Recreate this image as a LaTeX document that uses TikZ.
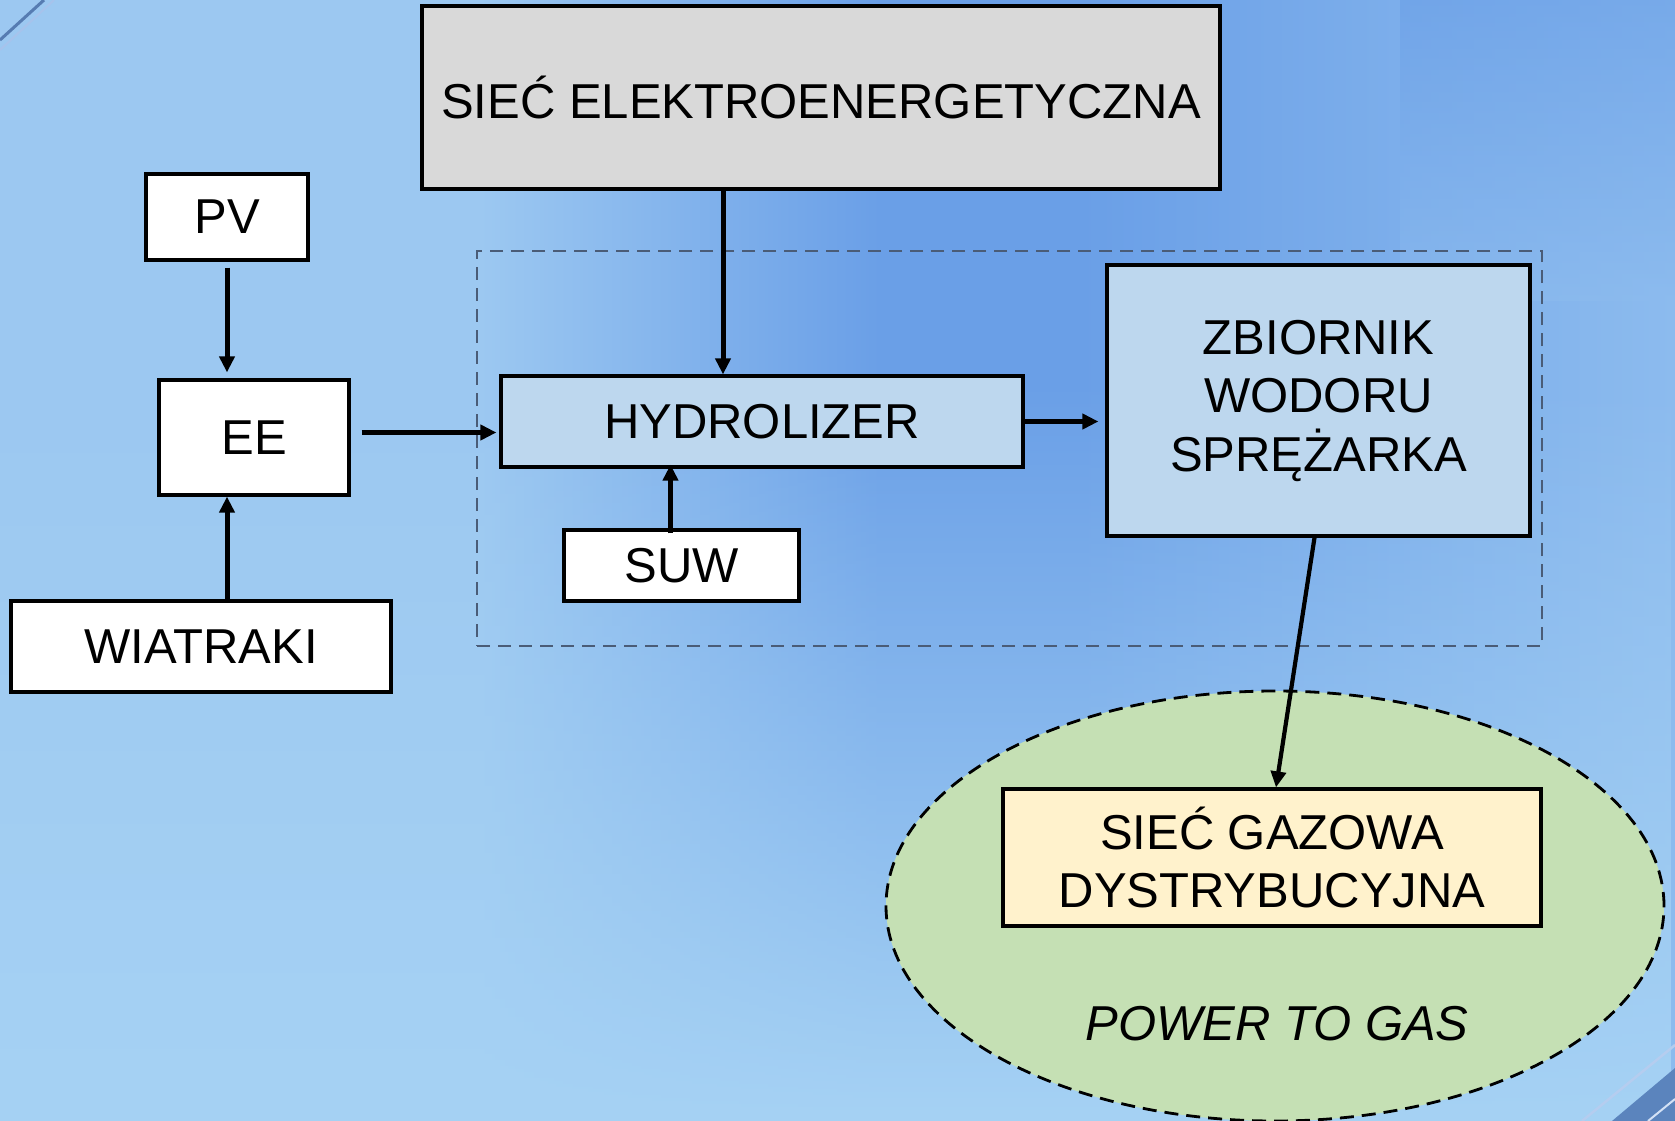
\documentclass[tikz,border=0pt]{standalone}
\usepackage{fontspec}
\setmainfont{Liberation Sans}
\usetikzlibrary{arrows.meta,calc,fadings,shapes.geometric}
\definecolor{bgL}{HTML}{9CC8F1}
\definecolor{bgM}{HTML}{6A9FE7}
\definecolor{bgR}{HTML}{8CBBEE}
\definecolor{bgLow}{HTML}{A6D2F4}
\definecolor{gridgray}{HTML}{D9D9D9}
\definecolor{paleblue}{HTML}{BDD7EE}
\definecolor{palegreen}{HTML}{C5E0B4}
\definecolor{cream}{HTML}{FFF2CC}
\definecolor{slate}{HTML}{4A5C77}
\definecolor{swoosh}{HTML}{6B9BDF}
\begin{document}
\begin{tikzpicture}[x=1pt,y=-1pt,
  box/.style={draw=black,line width=3.2pt,fill=white,inner sep=0pt,align=center,
    font=\fontsize{49}{58.5}\selectfont},
  arr/.style={line width=5pt,-{Triangle[length=16pt,width=15pt]}}]
\useasboundingbox (0,0) rectangle (1675,1121);
% background
\fill[bgL] (0,0) rectangle (1675,1121);
\shade[left color=bgL,right color=bgM] (480,0) rectangle (880,1121);
\fill[bgM] (879,0) rectangle (1081,1121);
\shade[left color=bgM,right color=bgR] (1080,0) rectangle (1675,1121);
\shade[top color=bgM,bottom color=bgR,opacity=0.6] (1400,0) rectangle (1675,300);
\fill[bgLow,path fading=north] (0,380) rectangle (1675,1121);
% corner swooshes
\draw[swoosh!80!black,line width=3pt] (0,40) -- (44,0);
\draw[white!40!swoosh,line width=2pt] (0,50) -- (54,0);
\fill[swoosh!85!black] (1612,1121) -- (1675,1068) -- (1675,1121) -- cycle;
\draw[white!50!swoosh,line width=2.5pt] (1582,1121) -- (1675,1045);
\draw[white!70!swoosh,line width=2pt] (1648,1121) -- (1675,1099);
% dashed region
\node[draw=slate,line width=2.8pt,dash pattern=on 13pt off 8pt,minimum width=1065pt,minimum height=395pt,inner sep=0pt] (region) at (1009.5,448.5) {};
% ellipse
\node[draw=black,fill=palegreen,line width=2.8pt,dash pattern=on 14pt off 8pt,ellipse,minimum width=778pt,minimum height=430pt,inner sep=0pt] (p2g) at (1275,906) {};
% nodes
\node[box,fill=gridgray,minimum width=798pt,minimum height=183pt] (siec) at (821,97.5) {SIEĆ ELEKTROENERGETYCZNA};
\node[box,minimum width=162pt,minimum height=86pt] (pv) at (227,217) {PV};
\node[box,minimum width=190pt,minimum height=115pt] (ee) at (254,437.5) {EE};
\node[box,minimum width=380pt,minimum height=91pt] (wia) at (201,646.5) {WIATRAKI};
\node[box,fill=paleblue,minimum width=522pt,minimum height=91pt] (hyd) at (762,421.5) {HYDROLIZER};
\node[box,minimum width=235pt,minimum height=71pt] (suw) at (681.5,565.5) {SUW};
\node[box,fill=paleblue,minimum width=423pt,minimum height=271pt] (zb) at (1318.5,400.5) {ZBIORNIK\\WODORU\\SPRĘŻARKA};
\node[box,fill=cream,minimum width=538pt,minimum height=137pt] (gaz) at (1272,857.5) {SIEĆ GAZOWA\\DYSTRYBUCYJNA};
\node[font=\fontsize{49}{58.5}\selectfont\itshape,inner sep=0pt] (ptg) at (1277,1024) {POWER TO GAS};
% connectors
\draw[arr,shorten <=6pt,shorten >=6pt] (pv.south) -- (pv.south |- ee.north);
\draw[arr] (wia.north -| pv.south) -- (ee.south -| pv.south);
\draw[arr,shorten <=11pt,shorten >=3pt] ($(ee.east)+(0,-5)$) -- ($(ee.east -| hyd.west)+(0,-5)$);
\coordinate (s1) at ($(siec.south)+(-98,0)$);
\draw[arr] (s1) -- (s1 |- hyd.north);
\coordinate (s2) at ($(suw.north)+(-11,5)$);
\draw[arr,shorten >=-4pt] (s2) -- (s2 |- hyd.south);
\draw[arr,shorten >=7pt] (hyd.east) -- (hyd.east -| zb.west);
\draw[arr,line width=4.2pt] ($(zb.south)+(-4,0)$) -- ($(gaz.north)+(4,0)$);
\end{tikzpicture}
\end{document}
